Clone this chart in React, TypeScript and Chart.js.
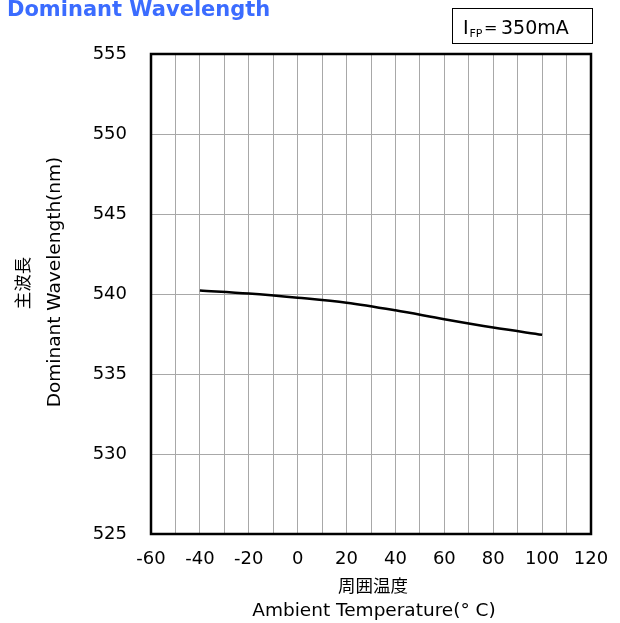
import React, { useEffect, useRef } from "react";
import { Chart, registerables } from "chart.js";

Chart.register(...registerables);

const temperatures = [-40, -20, 0, 20, 40, 60, 80, 100];
const wavelengths = [540.22, 540.03, 539.77, 539.46, 538.98, 538.42, 537.9, 537.45];

const xMin = -60;
const xMax = 120;
const yMin = 525;
const yMax = 555;

const chartTitle = "Dominant Wavelength";
const yTitleJa = "主波長";
const yTitleEn = "Dominant Wavelength(nm)";
const xTitleJa = "周囲温度";
const xTitleEn = "Ambient Temperature(° C)";

const SANS = "'DejaVu Sans', Verdana, sans-serif";
const CJK = "'Noto Sans CJK JP', 'Noto Sans CJK SC', sans-serif";

const decorPlugin = {
  id: "decor",
  afterDraw(chart: any) {
    const ctx = chart.ctx as CanvasRenderingContext2D;
    const a = chart.chartArea;
    ctx.save();
    // frame
    ctx.strokeStyle = "#000";
    ctx.lineWidth = 2.5;
    ctx.strokeRect(a.left, a.top, a.right - a.left, a.bottom - a.top);

    // title
    ctx.fillStyle = "#3b6cff";
    ctx.font = `bold 21px ${SANS}`;
    ctx.textAlign = "left";
    ctx.textBaseline = "alphabetic";
    ctx.fillText(chartTitle, 7, 16);

    // condition box
    ctx.strokeStyle = "#000";
    ctx.lineWidth = 1;
    ctx.strokeRect(452.5, 8.5, 140, 35);
    ctx.fillStyle = "#000";
    ctx.font = `19px ${SANS}`;
    ctx.fillText("I", 463, 34);
    ctx.font = `11px ${SANS}`;
    ctx.fillText("FP", 469.5, 37);
    ctx.font = `16px ${SANS}`;
    ctx.fillText("=", 484, 33);
    ctx.font = `19px ${SANS}`;
    ctx.fillText("350mA", 501, 34);

    // axis titles
    const cx = (a.left + a.right) / 2;
    ctx.textAlign = "center";
    ctx.textBaseline = "middle";
    ctx.font = `17.5px ${CJK}`;
    ctx.fillText(xTitleJa, cx + 2, 585);
    ctx.font = `18.5px ${SANS}`;
    ctx.fillText(xTitleEn, cx + 3, 611);

    ctx.save();
    ctx.translate(22, 283);
    ctx.rotate(-Math.PI / 2);
    ctx.font = `17.5px ${CJK}`;
    ctx.fillText(yTitleJa, 0, 0);
    ctx.restore();

    ctx.save();
    ctx.translate(55, 282);
    ctx.rotate(-Math.PI / 2);
    ctx.font = `18.5px ${SANS}`;
    ctx.fillText(yTitleEn, 0, 0);
    ctx.restore();

    ctx.restore();
  },
};

export default function App() {
  const ref = useRef<HTMLCanvasElement | null>(null);

  useEffect(() => {
    if (!ref.current) return;
    const chart = new Chart(ref.current, {
      type: "line",
      data: {
        datasets: [
          {
            data: temperatures.map((t, i) => ({ x: t, y: wavelengths[i] })),
            borderColor: "#000",
            borderWidth: 2.5,
            pointRadius: 0,
            cubicInterpolationMode: "monotone",
            fill: false,
          },
        ],
      },
      options: {
        animation: false,
        responsive: false,
        maintainAspectRatio: false,
        layout: { padding: { top: 54, right: 29, left: 0, bottom: 0 } },
        plugins: {
          legend: { display: false },
          title: { display: false },
          tooltip: { enabled: false },
        },
        scales: {
          x: {
            type: "linear",
            min: xMin,
            max: xMax,
            afterFit: (s: any) => {
              s.height = 89;
              s.paddingLeft = 0;
              s.paddingRight = 0;
            },
            border: { display: false },
            grid: { color: "#a8a8a8", lineWidth: 1, drawTicks: false },
            ticks: {
              stepSize: 10,
              autoSkip: false,
              maxRotation: 0,
              padding: 15,
              color: "#000",
              font: { family: SANS, size: 18 },
              callback: (v: any) => (Number(v) % 20 === 0 ? String(v) : ""),
            },
          },
          y: {
            type: "linear",
            min: yMin,
            max: yMax,
            afterFit: (s: any) => {
              s.width = 151;
              s.paddingTop = 0;
              s.paddingBottom = 0;
            },
            border: { display: false },
            grid: { color: "#a8a8a8", lineWidth: 1, drawTicks: false },
            ticks: {
              stepSize: 5,
              padding: 24,
              color: "#000",
              font: { family: SANS, size: 18 },
            },
          },
        },
      },
      plugins: [decorPlugin],
    });
    return () => chart.destroy();
  }, []);

  return (
    <div style={{ position: "absolute", left: 0, top: 0, width: 620, height: 623, background: "#fff" }}>
      <canvas ref={ref} width={620} height={623} style={{ width: 620, height: 623, display: "block" }} />
    </div>
  );
}
